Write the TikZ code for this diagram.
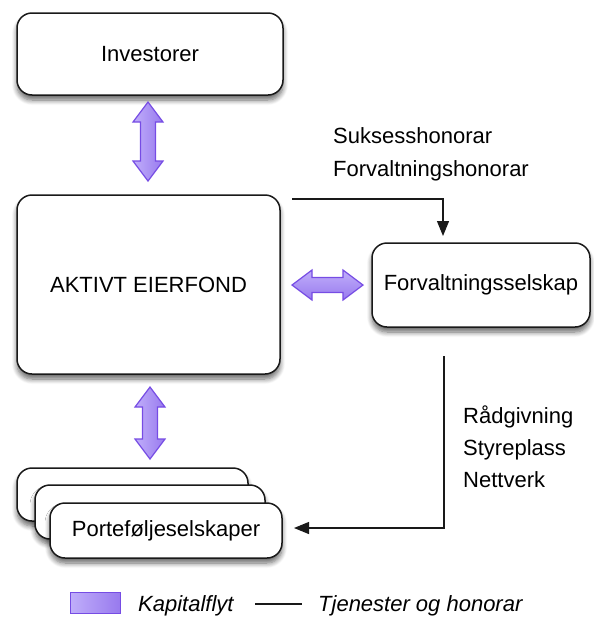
\documentclass[tikz,border=0pt]{standalone}
\usepackage{fontspec}
\setmainfont{Liberation Sans}
\usetikzlibrary{arrows.meta,shadows.blur}

\definecolor{flowlight}{RGB}{192,174,250}
\definecolor{flowdark}{RGB}{152,122,238}
\definecolor{flowline}{RGB}{118,76,228}
\definecolor{boxline}{RGB}{25,25,25}

% vertical double-headed capital flow arrow: x, top tip y, bottom tip y
\newcommand\flowV[3]{%
  \draw[flow,left color=flowlight,right color=flowdark] (#1,#2) -- ++(15,20) -- ++(-7.5,0) -- (#1+7.5,#3-20) -- ++(7.5,0)
    -- (#1,#3) -- ++(-15,-20) -- ++(7.5,0) -- (#1-7.5,#2+20) -- ++(-7.5,0) -- cycle;}
% horizontal double-headed capital flow arrow: y, left tip x, right tip x
\newcommand\flowH[3]{%
  \draw[flow,top color=flowlight,bottom color=flowdark] (#2,#1) -- ++(20,-15) -- ++(0,7.5) -- (#3-20,#1-7.5) -- ++(0,-7.5)
    -- (#3,#1) -- ++(-20,15) -- ++(0,-7.5) -- (#2+20,#1+7.5) -- ++(0,7.5) -- cycle;}

\begin{document}
\begin{tikzpicture}[x=1pt,y=-1pt,font=\fontsize{22}{26}\selectfont,
  box/.style={draw=boxline,line width=1.5pt,rounded corners=15pt,fill=white,
    blur shadow={shadow xshift=0pt,shadow yshift=-5pt,shadow blur radius=5pt,
      shadow blur steps=8,shadow opacity=60}},
  flow/.style={draw=flowline,line width=1.2pt,line join=miter},
  link/.style={draw=boxline,line width=1.2pt,-{Triangle[width=12pt,length=15pt]}},
  lbl/.style={anchor=base west,inner sep=0pt}]
\useasboundingbox (0,0) rectangle (594,619);

% main boxes
\node[box,minimum width=266pt,minimum height=82pt] (inv) at (150,54) {Investorer};
\node[box,minimum width=263pt,minimum height=179pt] (fond) at (148.5,284.5) {AKTIVT EIERFOND};
\node[box,minimum width=218pt,minimum height=84pt] (forv) at (481,285) {Forvaltningsselskap};

% stack of portfolio companies
\node[box,minimum width=231pt,minimum height=53pt] (pf3) at (132.5,494.5) {};
\node[box,minimum width=230pt,minimum height=54pt] (pf2) at (150,512) {};
\node[box,minimum width=232pt,minimum height=55pt] (pf1) at (166,530.5) {Porteføljeselskaper};

% capital flows
\flowV{148}{102}{181}
\flowV{150}{387}{459}
\flowH{285}{292}{363}

% services and fees
\coordinate (t1) at (292,199);
\coordinate (t2) at (443,236);
\draw[link] (t1) -| (t2);
\coordinate (r1) at (444,356);
\coordinate (r2) at (294,528);
\draw[link] (r1) |- (r2);

\node[lbl] (s1) at (333,143) {Suksesshonorar};
\node[lbl] (s2) at (333,176) {Forvaltningshonorar};
\node[lbl] (a1) at (463,423) {Rådgivning};
\node[lbl] (a2) at (463,455) {Styreplass};
\node[lbl] (a3) at (463,487) {Nettverk};

% legend
\node[flow,line width=0.8pt,left color=flowlight,right color=flowdark,
  minimum width=50pt,minimum height=21pt,inner sep=0pt] (legbox) at (95,602.5) {};
\node[lbl,font=\fontsize{22}{26}\selectfont\itshape] (legcap) at (138,611) {Kapitalflyt};
\coordinate (l1) at (255,604);
\coordinate (l2) at (302,604);
\draw[boxline,line width=1.2pt] (l1) -- (l2);
\node[lbl,font=\fontsize{22}{26}\selectfont\itshape] (legsvc) at (318,611) {Tjenester og honorar};
\end{tikzpicture}
\end{document}
